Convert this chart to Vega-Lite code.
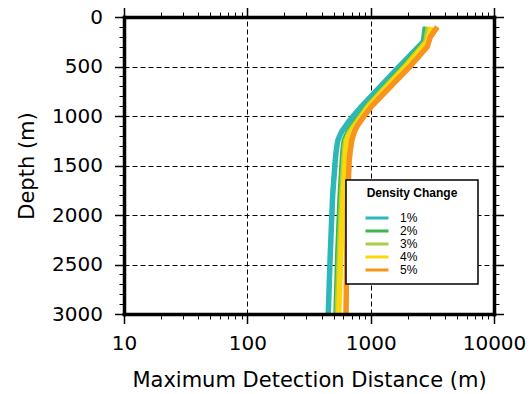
{
  "$schema": "https://vega.github.io/schema/vega-lite/v6.json",
  "width": 370,
  "height": 297,
  "autosize": {"type": "none"},
  "padding": {"left": 124, "top": 17, "right": 36, "bottom": 80},
  "background": "white",
  "data": {
    "values": [
      {"pct": "1%", "depth": 100, "dist": 2774},
      {"pct": "1%", "depth": 250, "dist": 2673},
      {"pct": "1%", "depth": 500, "dist": 1707},
      {"pct": "1%", "depth": 750, "dist": 1104},
      {"pct": "1%", "depth": 900, "dist": 847},
      {"pct": "1%", "depth": 1000, "dist": 722},
      {"pct": "1%", "depth": 1050, "dist": 670},
      {"pct": "1%", "depth": 1100, "dist": 628},
      {"pct": "1%", "depth": 1150, "dist": 588},
      {"pct": "1%", "depth": 1200, "dist": 561},
      {"pct": "1%", "depth": 1250, "dist": 541},
      {"pct": "1%", "depth": 1350, "dist": 526},
      {"pct": "1%", "depth": 1450, "dist": 516},
      {"pct": "1%", "depth": 1800, "dist": 492},
      {"pct": "1%", "depth": 2400, "dist": 470},
      {"pct": "1%", "depth": 3000, "dist": 453},
      {"pct": "2%", "depth": 100, "dist": 2827},
      {"pct": "2%", "depth": 250, "dist": 2749},
      {"pct": "2%", "depth": 500, "dist": 1839},
      {"pct": "2%", "depth": 750, "dist": 1201},
      {"pct": "2%", "depth": 900, "dist": 930},
      {"pct": "2%", "depth": 1000, "dist": 815},
      {"pct": "2%", "depth": 1050, "dist": 757},
      {"pct": "2%", "depth": 1100, "dist": 709},
      {"pct": "2%", "depth": 1150, "dist": 664},
      {"pct": "2%", "depth": 1200, "dist": 634},
      {"pct": "2%", "depth": 1250, "dist": 610},
      {"pct": "2%", "depth": 1350, "dist": 596},
      {"pct": "2%", "depth": 1450, "dist": 588},
      {"pct": "2%", "depth": 1800, "dist": 566},
      {"pct": "2%", "depth": 2400, "dist": 541},
      {"pct": "2%", "depth": 3000, "dist": 524},
      {"pct": "3%", "depth": 100, "dist": 2935},
      {"pct": "3%", "depth": 250, "dist": 2801},
      {"pct": "3%", "depth": 500, "dist": 1891},
      {"pct": "3%", "depth": 750, "dist": 1224},
      {"pct": "3%", "depth": 900, "dist": 947},
      {"pct": "3%", "depth": 1000, "dist": 831},
      {"pct": "3%", "depth": 1050, "dist": 778},
      {"pct": "3%", "depth": 1100, "dist": 729},
      {"pct": "3%", "depth": 1150, "dist": 683},
      {"pct": "3%", "depth": 1200, "dist": 652},
      {"pct": "3%", "depth": 1250, "dist": 627},
      {"pct": "3%", "depth": 1350, "dist": 613},
      {"pct": "3%", "depth": 1450, "dist": 605},
      {"pct": "3%", "depth": 1800, "dist": 583},
      {"pct": "3%", "depth": 2400, "dist": 556},
      {"pct": "3%", "depth": 3000, "dist": 536},
      {"pct": "4%", "depth": 100, "dist": 3104},
      {"pct": "4%", "depth": 250, "dist": 2880},
      {"pct": "4%", "depth": 500, "dist": 1945},
      {"pct": "4%", "depth": 750, "dist": 1259},
      {"pct": "4%", "depth": 900, "dist": 974},
      {"pct": "4%", "depth": 1000, "dist": 855},
      {"pct": "4%", "depth": 1050, "dist": 801},
      {"pct": "4%", "depth": 1100, "dist": 750},
      {"pct": "4%", "depth": 1150, "dist": 703},
      {"pct": "4%", "depth": 1200, "dist": 664},
      {"pct": "4%", "depth": 1250, "dist": 640},
      {"pct": "4%", "depth": 1350, "dist": 628},
      {"pct": "4%", "depth": 1450, "dist": 622},
      {"pct": "4%", "depth": 1800, "dist": 599},
      {"pct": "4%", "depth": 2400, "dist": 572},
      {"pct": "4%", "depth": 3000, "dist": 551},
      {"pct": "5%", "depth": 100, "dist": 3472},
      {"pct": "5%", "depth": 200, "dist": 3046},
      {"pct": "5%", "depth": 300, "dist": 2880},
      {"pct": "5%", "depth": 500, "dist": 2084},
      {"pct": "5%", "depth": 750, "dist": 1331},
      {"pct": "5%", "depth": 900, "dist": 1021},
      {"pct": "5%", "depth": 1000, "dist": 887},
      {"pct": "5%", "depth": 1050, "dist": 831},
      {"pct": "5%", "depth": 1100, "dist": 778},
      {"pct": "5%", "depth": 1150, "dist": 743},
      {"pct": "5%", "depth": 1200, "dist": 720},
      {"pct": "5%", "depth": 1250, "dist": 703},
      {"pct": "5%", "depth": 1350, "dist": 683},
      {"pct": "5%", "depth": 1450, "dist": 670},
      {"pct": "5%", "depth": 1800, "dist": 652},
      {"pct": "5%", "depth": 2400, "dist": 640},
      {"pct": "5%", "depth": 3000, "dist": 631}
    ]
  },
  "resolve": {"axis": {"x": "independent", "y": "independent"}},
  "layer": [
    {
      "mark": {"type": "line", "strokeWidth": 5.5, "strokeCap": "butt", "strokeJoin": "round"},
      "encoding": {
        "x": {
          "field": "dist", "type": "quantitative",
          "scale": {"type": "log", "domain": [10, 10000], "nice": false},
          "axis": {"orient": "bottom", "values": [100, 1000], "grid": true, "gridColor": "black", "gridDash": [5, 3], "gridWidth": 1, "gridOpacity": 1, "domain": false, "ticks": false, "labels": false, "title": null}
        },
        "y": {
          "field": "depth", "type": "quantitative",
          "scale": {"domain": [0, 3000], "reverse": true, "nice": false, "zero": false},
          "axis": {"orient": "left", "values": [500, 1000, 1500, 2000, 2500], "grid": true, "gridColor": "black", "gridDash": [5, 3], "gridWidth": 1, "gridOpacity": 1, "domain": false, "ticks": false, "labels": false, "title": null}
        },
        "color": {
          "field": "pct", "type": "nominal",
          "scale": {"domain": ["1%", "2%", "3%", "4%", "5%"], "range": ["#2db7b9", "#3db54a", "#a8cf45", "#fad80c", "#f7941e"]},
          "legend": {
            "orient": "none", "legendX": 222, "legendY": 163,
            "title": "Density Change", "titleAnchor": "middle",
            "padding": 8, "fillColor": "white", "strokeColor": "black",
            "symbolType": "M-2.09,0H2.09M15.8,0H15.8", "symbolSize": 121, "symbolStrokeWidth": 3, "symbolOffset": 16,
            "labelOffset": 16, "rowPadding": 0, "titlePadding": 11,
            "labelFont": "Liberation Sans", "labelFontSize": 12, "labelColor": "black",
            "titleFont": "Liberation Sans", "titleFontSize": 12, "titleFontWeight": "bold", "titleColor": "black"
          }
        },
        "order": {"field": "depth", "type": "quantitative"}
      }
    },
    {
      "mark": {"type": "point", "opacity": 0},
      "encoding": {
        "x": {
          "field": "dist", "type": "quantitative",
          "scale": {"type": "log", "domain": [10, 10000], "nice": false},
          "axis": {"orient": "bottom", "values": [10, 100, 1000, 10000], "format": "d", "grid": false, "domain": true, "domainColor": "black", "domainWidth": 3.5, "domainCap": "square", "ticks": true, "tickSize": 9.5, "tickWidth": 1.5, "tickColor": "black", "labelFont": "DejaVu Sans", "labelFontSize": 20, "labelColor": "black", "labelPadding": 10, "labelFlush": false, "labelOverlap": false, "title": "Maximum Detection Distance (m)", "titleFont": "DejaVu Sans", "titleFontSize": 21, "titleFontWeight": "normal", "titleColor": "black", "titlePadding": 15.5, "zindex": 1}
        },
        "y": {
          "field": "depth", "type": "quantitative",
          "scale": {"domain": [0, 3000], "reverse": true, "nice": false, "zero": false},
          "axis": {"orient": "left", "values": [0, 500, 1000, 1500, 2000, 2500, 3000], "format": "d", "grid": false, "domain": true, "domainColor": "black", "domainWidth": 3.5, "domainCap": "square", "ticks": true, "tickSize": 9.5, "tickWidth": 1.5, "tickColor": "black", "labelFont": "DejaVu Sans", "labelFontSize": 20, "labelColor": "black", "labelPadding": 12, "labelFlush": false, "labelOverlap": false, "title": "Depth (m)", "titleFont": "DejaVu Sans", "titleFontSize": 21, "titleFontWeight": "normal", "titleColor": "black", "titlePadding": 14, "zindex": 1}
        }
      }
    },
    {
      "mark": {"type": "point", "opacity": 0},
      "encoding": {
        "x": {
          "field": "dist", "type": "quantitative",
          "scale": {"type": "log", "domain": [10, 10000], "nice": false},
          "axis": {"orient": "bottom", "values": [20, 30, 40, 50, 60, 70, 80, 90, 200, 300, 400, 500, 600, 700, 800, 900, 2000, 3000, 4000, 5000, 6000, 7000, 8000, 9000], "grid": false, "domain": false, "ticks": true, "tickSize": 5, "tickWidth": 1, "tickColor": "black", "labels": false, "title": null, "zindex": 1}
        },
        "y": {
          "field": "depth", "type": "quantitative",
          "scale": {"domain": [0, 3000], "reverse": true, "nice": false, "zero": false},
          "axis": {"orient": "left", "values": [100, 200, 300, 400, 600, 700, 800, 900, 1100, 1200, 1300, 1400, 1600, 1700, 1800, 1900, 2100, 2200, 2300, 2400, 2600, 2700, 2800, 2900], "grid": false, "domain": false, "ticks": true, "tickSize": 5, "tickWidth": 1, "tickColor": "black", "labels": false, "title": null, "zindex": 1}
        }
      }
    },
    {
      "mark": {"type": "point", "opacity": 0},
      "encoding": {
        "x": {
          "field": "dist", "type": "quantitative",
          "scale": {"type": "log", "domain": [10, 10000], "nice": false},
          "axis": {"orient": "top", "values": [10, 100, 1000, 10000], "grid": false, "domain": true, "domainColor": "black", "domainWidth": 3.5, "domainCap": "square", "ticks": true, "tickSize": 9.5, "tickWidth": 1.5, "tickColor": "black", "labels": false, "title": null, "zindex": 1}
        },
        "y": {
          "field": "depth", "type": "quantitative",
          "scale": {"domain": [0, 3000], "reverse": true, "nice": false, "zero": false},
          "axis": {"orient": "right", "values": [0, 500, 1000, 1500, 2000, 2500, 3000], "grid": false, "domain": true, "domainColor": "black", "domainWidth": 3.5, "domainCap": "square", "ticks": true, "tickSize": 9.5, "tickWidth": 1.5, "tickColor": "black", "labels": false, "title": null, "zindex": 1}
        }
      }
    },
    {
      "mark": {"type": "point", "opacity": 0},
      "encoding": {
        "x": {
          "field": "dist", "type": "quantitative",
          "scale": {"type": "log", "domain": [10, 10000], "nice": false},
          "axis": {"orient": "top", "values": [20, 30, 40, 50, 60, 70, 80, 90, 200, 300, 400, 500, 600, 700, 800, 900, 2000, 3000, 4000, 5000, 6000, 7000, 8000, 9000], "grid": false, "domain": false, "ticks": true, "tickSize": 5, "tickWidth": 1, "tickColor": "black", "labels": false, "title": null, "zindex": 1}
        },
        "y": {
          "field": "depth", "type": "quantitative",
          "scale": {"domain": [0, 3000], "reverse": true, "nice": false, "zero": false},
          "axis": {"orient": "right", "values": [100, 200, 300, 400, 600, 700, 800, 900, 1100, 1200, 1300, 1400, 1600, 1700, 1800, 1900, 2100, 2200, 2300, 2400, 2600, 2700, 2800, 2900], "grid": false, "domain": false, "ticks": true, "tickSize": 5, "tickWidth": 1, "tickColor": "black", "labels": false, "title": null, "zindex": 1}
        }
      }
    }
  ],
  "config": {
    "view": {"stroke": null},
    "legend": {"strokeWidth": 1.5}
  }
}
